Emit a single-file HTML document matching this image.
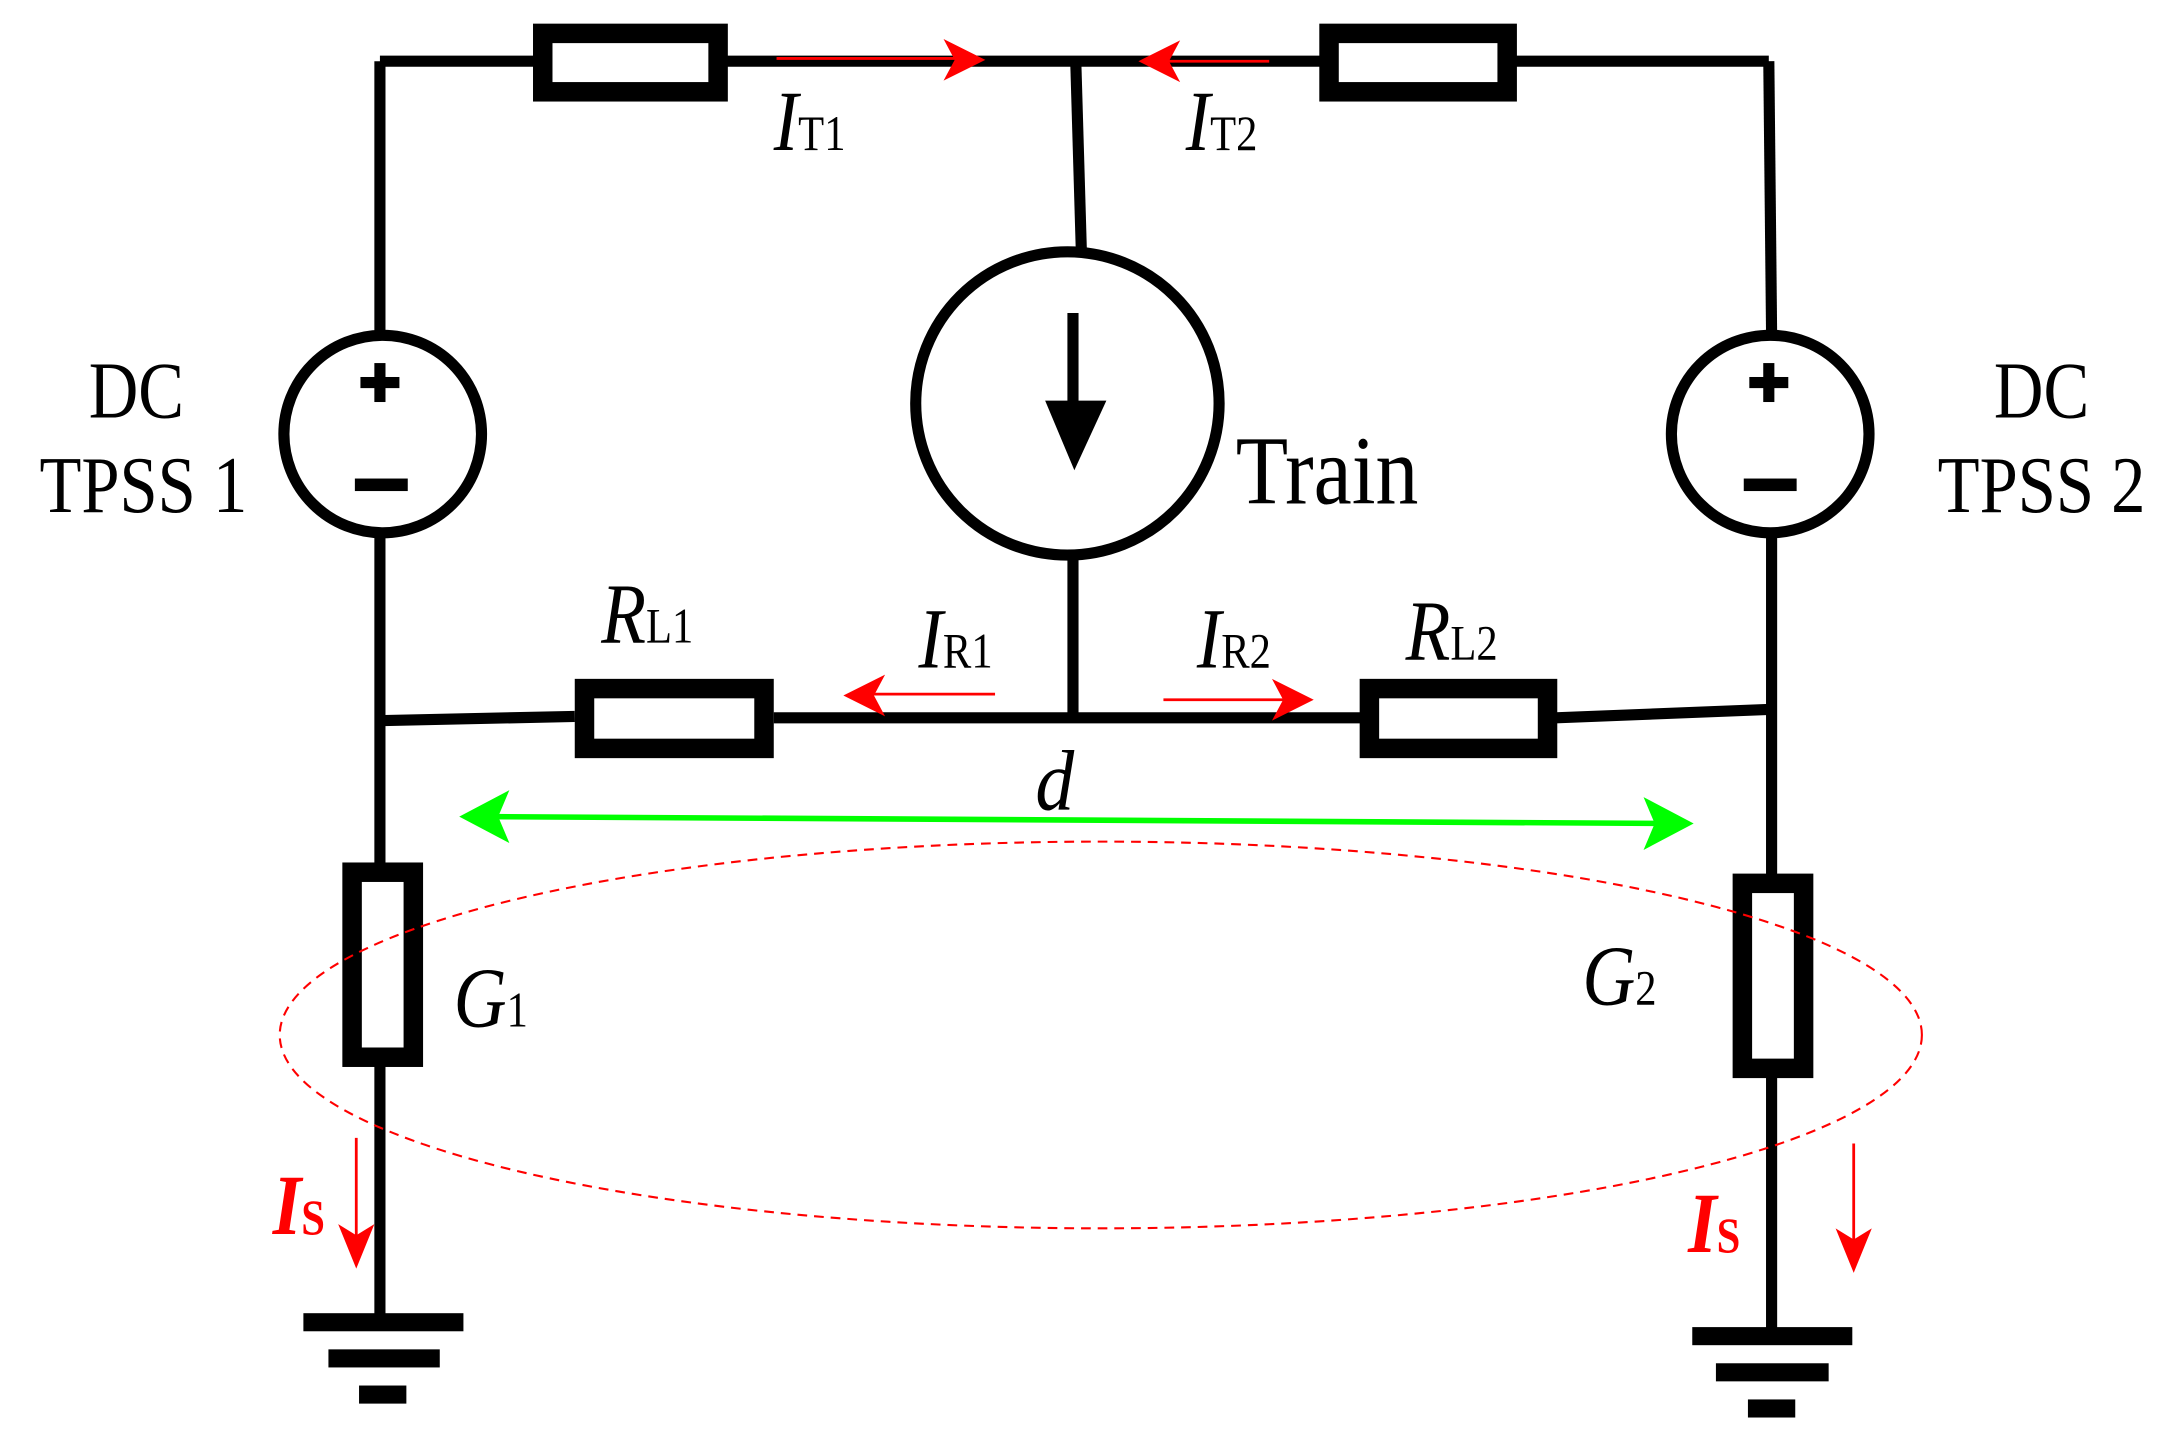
<!DOCTYPE html>
<html><head><meta charset="utf-8"><style>
html,body{margin:0;padding:0;background:#fff;}
svg{display:block;}
text{font-family:"Liberation Serif",serif;}
</style></head><body>
<svg width="2171" height="1437" viewBox="0 0 1560 1033" preserveAspectRatio="none" xmlns="http://www.w3.org/2000/svg">
<g stroke="#000" stroke-width="8" fill="none">
<line x1="273" y1="44" x2="1271" y2="44"/>
<line x1="273" y1="44" x2="273" y2="240"/>
<line x1="273" y1="384" x2="273" y2="948"/>
<line x1="1271" y1="44" x2="1273" y2="240"/>
<line x1="1273" y1="384" x2="1273" y2="958"/>
<line x1="773" y1="44" x2="777" y2="180"/>
<line x1="771" y1="402" x2="771" y2="516"/>
<polyline points="276,518 413,515"/>
<line x1="556" y1="516" x2="978" y2="516"/>
<polyline points="1118,516 1271,510"/>
<circle cx="767" cy="290" r="109"/>
<circle cx="275" cy="312" r="71"/>
<circle cx="1272" cy="312" r="71"/>
<line x1="771" y1="225" x2="771" y2="300"/>
</g>
<polygon points="751,288 795,288 772,338" fill="#000"/>
<g fill="#fff" stroke="#000" stroke-width="14">
<rect x="390" y="24" width="126" height="42"/>
<rect x="955" y="24" width="128" height="42"/>
<rect x="420" y="495" width="129" height="43"/>
<rect x="984" y="495" width="128" height="43"/>
<rect x="253" y="627" width="44" height="133"/>
<rect x="1252" y="635" width="44" height="133"/>
</g>
<g fill="#000">
<rect x="259" y="271" width="28" height="8"/><rect x="269" y="261" width="8" height="28"/>
<rect x="255" y="344" width="38" height="9"/>
<rect x="1257" y="271" width="28" height="8"/><rect x="1267" y="261" width="8" height="28"/>
<rect x="1253" y="344" width="38" height="9"/>
<rect x="218" y="944" width="115" height="13"/>
<rect x="236" y="970" width="80" height="13"/>
<rect x="258" y="996" width="34" height="13"/>
<rect x="1216" y="954" width="115" height="13"/>
<rect x="1233" y="980" width="81" height="13"/>
<rect x="1256" y="1006" width="34" height="13"/>
</g>
<ellipse cx="791" cy="744" rx="590" ry="139" fill="none" stroke="#f00" stroke-width="1.5" stroke-dasharray="7,5"/>
<g stroke="#0f0" stroke-width="4"><line x1="345" y1="587" x2="1203" y2="592"/></g>
<polygon points="330,587 366,568 358,587 366,606" fill="#0f0"/>
<polygon points="1217,592 1181,573 1189,592 1181,611" fill="#0f0"/>
<g stroke="#f00" stroke-width="2" fill="none">
<line x1="558" y1="42" x2="690" y2="42"/>
<line x1="830" y1="44" x2="912" y2="44"/>
<line x1="620" y1="499" x2="715" y2="499"/>
<line x1="836" y1="503" x2="930" y2="503"/>
<line x1="256" y1="818" x2="256" y2="895"/>
<line x1="1332" y1="822" x2="1332" y2="898"/>
</g>
<g fill="#f00">
<polygon points="708,43 678,28 686,43 678,58"/>
<polygon points="818,44 848,29 840,44 848,59"/>
<polygon points="606,500 636,485 628,500 636,515"/>
<polygon points="944,503 914,488 922,503 914,518"/>
<polygon points="256,912 243,880 256,888 269,880"/>
<polygon points="1332,915 1319,883 1332,891 1345,883"/>
</g>
<g font-size="58" text-anchor="middle" fill="#000">
<text transform="translate(98,300) scale(0.85,1)">DC</text>
<text transform="translate(103,368) scale(0.85,1)">TPSS 1</text>
<text transform="translate(1467,300) scale(0.85,1)">DC</text>
<text transform="translate(1467,368) scale(0.85,1)">TPSS 2</text>
</g>
<text transform="translate(888,362) scale(0.88,1)" font-size="70" fill="#000">Train</text>
<g font-size="62" font-style="italic" fill="#000">
<text transform="translate(556,108) scale(0.85,1)">I<tspan font-size="36" font-style="normal">T1</tspan></text>
<text transform="translate(852,108) scale(0.85,1)">I<tspan font-size="36" font-style="normal">T2</tspan></text>
<text transform="translate(432,462) scale(0.85,1)">R<tspan font-size="36" font-style="normal">L1</tspan></text>
<text transform="translate(660,480) scale(0.85,1)">I<tspan font-size="36" font-style="normal">R1</tspan></text>
<text transform="translate(860,480) scale(0.85,1)">I<tspan font-size="36" font-style="normal">R2</tspan></text>
<text transform="translate(1010,474) scale(0.85,1)">R<tspan font-size="36" font-style="normal">L2</tspan></text>
<text transform="translate(744,582) scale(0.9,1)">d</text>
<text transform="translate(326,738) scale(0.85,1)">G<tspan font-size="36" font-style="normal">1</tspan></text>
<text transform="translate(1137,722) scale(0.85,1)">G<tspan font-size="36" font-style="normal">2</tspan></text>
</g>
<g font-size="62" font-style="italic" font-weight="bold" fill="#f00">
<text transform="translate(196,887) scale(0.85,1)">I<tspan font-size="36" font-style="normal">S</tspan></text>
<text transform="translate(1213,900) scale(0.85,1)">I<tspan font-size="36" font-style="normal">S</tspan></text>
</g>
</svg>
</body></html>
